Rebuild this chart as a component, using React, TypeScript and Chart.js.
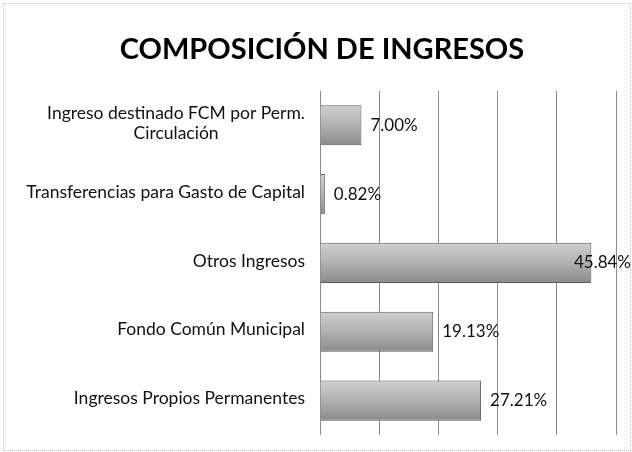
import { useEffect, useRef } from "react";
import { Chart, registerables } from "chart.js";

Chart.register(...registerables);

const TITLE = "COMPOSICIÓN DE INGRESOS";
const categories: string[][] = [
  ["Ingreso destinado FCM por Perm.", "Circulación"],
  ["Transferencias para Gasto de Capital"],
  ["Otros Ingresos"],
  ["Fondo Común Municipal"],
  ["Ingresos Propios Permanentes"],
];
const values = [7.0, 0.82, 45.84, 19.13, 27.21];
const X_MAX = 50;
const X_STEP = 10;

const FONT = "Lato, 'Open Sans', sans-serif";

const categoryLabelPlugin = {
  id: "categoryLabels",
  afterDraw(chart: any) {
    const { ctx, chartArea, scales } = chart;
    const y = scales.y;
    ctx.save();
    ctx.font = `17.5px ${FONT}`;
    ctx.fillStyle = "#111";
    ctx.textBaseline = "middle";
    ctx.textAlign = "center";
    const rightEdge = chartArea.left - 15;
    const lineH = 19.5;
    categories.forEach((lines, i) => {
      const cy = y.getPixelForValue(i);
      const w = Math.max(...lines.map((l) => ctx.measureText(l).width));
      const cx = rightEdge - w / 2;
      const startY = cy - ((lines.length - 1) * lineH) / 2 - 2;
      lines.forEach((l, k) => ctx.fillText(l, cx, startY + k * lineH));
    });
    ctx.restore();
  },
};

const valueLabelPlugin = {
  id: "valueLabels",
  afterDatasetsDraw(chart: any) {
    const { ctx } = chart;
    const meta = chart.getDatasetMeta(0);
    ctx.save();
    ctx.font = `17px ${FONT}`;
    ctx.fillStyle = "#111";
    ctx.textBaseline = "middle";
    ctx.textAlign = "left";
    meta.data.forEach((bar: any, i: number) => {
      const text = values[i].toFixed(2) + "%";
      const w = ctx.measureText(text).width;
      let x = bar.x + 9;
      if (x + w > chart.width - 1) x = chart.width - 1 - w;
      ctx.fillText(text, x, bar.y);
    });
    ctx.restore();
  },
};

export default function App() {
  const ref = useRef<HTMLCanvasElement | null>(null);

  useEffect(() => {
    document.body.style.margin = "0";
    const canvas = ref.current;
    if (!canvas) return;
    const chart = new Chart(canvas, {
      type: "bar",
      data: {
        labels: categories.map((c) => c.join(" ")),
        datasets: [
          {
            data: values,
            backgroundColor: (ctx: any) => {
              const c = ctx.chart;
              const ys = c.scales && c.scales.y;
              if (!ys || !c.chartArea) return "#a6a6a6";
              const cy = ys.getPixelForValue(ctx.dataIndex);
              const h = 40;
              const g = c.ctx.createLinearGradient(0, cy - h / 2, 0, cy + h / 2);
              g.addColorStop(0, "#cfcfcf");
              g.addColorStop(0.45, "#b4b4b4");
              g.addColorStop(1, "#8a8a8a");
              return g;
            },
            borderColor: "#5a5a5a",
            borderWidth: 1,
            borderSkipped: "left",
            barPercentage: 0.72,
            categoryPercentage: 0.81,
          },
        ],
      },
      options: {
        indexAxis: "y",
        animation: false,
        responsive: false,
        maintainAspectRatio: false,
        layout: { padding: { left: 28, right: 16, top: 0, bottom: 17 } },
        plugins: {
          legend: { display: false },
          tooltip: { enabled: false },
          title: {
            display: true,
            text: TITLE,
            color: "#000",
            font: { family: FONT, size: 29, weight: "bold" },
            padding: { top: 32, bottom: 24 },
          },
        },
        scales: {
          x: {
            min: 0,
            max: X_MAX,
            ticks: { display: false, stepSize: X_STEP },
            grid: { color: "#8c8c8c", lineWidth: 1, drawTicks: false },
            border: { display: false },
          },
          y: {
            ticks: { display: false },
            grid: { display: false, drawTicks: false },
            border: { display: false },
            afterFit: (scale: any) => {
              scale.width = 292;
            },
          },
        },
      },
      plugins: [categoryLabelPlugin, valueLabelPlugin],
    } as any);
    return () => chart.destroy();
  }, []);

  return (
    <div style={{ position: "relative", width: 632, height: 452, background: "#fff" }}>
      <canvas ref={ref} width={632} height={452} style={{ display: "block" }} />
      <div
        style={{
          position: "absolute",
          left: 3,
          top: 3,
          right: 1,
          bottom: 1,
          border: "1px dotted #c4c4c4",
          pointerEvents: "none",
        }}
      />
    </div>
  );
}
